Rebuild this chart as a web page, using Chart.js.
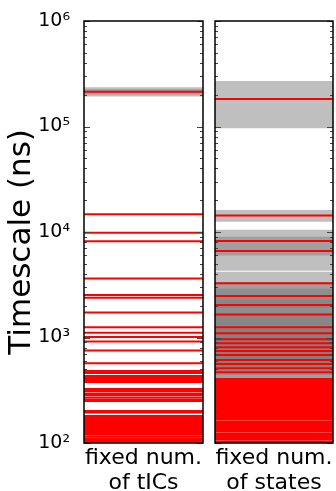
<!DOCTYPE html>
<html>
<head>
<meta charset="utf-8">
<script src="https://cdn.jsdelivr.net/npm/chart.js@4/dist/chart.umd.min.js"></script>
<style>
  body { margin: 0; background: #fff; }
  #wrap { position: relative; width: 336px; height: 491px; overflow: hidden; }
  canvas { position: absolute; top: 0; }
</style>
</head>
<body>
<div id="wrap">
  <canvas id="tics" width="206" height="491" style="left:0"></canvas>
  <canvas id="states" width="130" height="491" style="left:206px"></canvas>
</div>
<script>
// timescales (ns)
const ticTimescales = [214000, 14700, 9860, 8170, 3620, 2530, 2380, 1730, 1250, 1110, 1010, 916, 753, 569,
  481, 461, 432, 413, 395, 378, 325, 311, 294, 285, 270, 258, 250,
  201, 195, 180, 173, 165, 158, 151, 145, 139, 133, 127, 122, 116, 111, 107, 102];
const ticBandLow = [192000, 201000];
const ticBandHigh = [235000, 226000];

const stateTimescales = [182000, 14300, 8220, 6610, 3270, 2470, 2030, 1650, 1250, 1100, 961, 881, 807, 745,
  682, 612, 561, 511, 468, 404, 387, 371, 355, 340, 325, 311, 298, 285, 273, 261, 250, 239, 229, 219,
  210, 201, 192, 184, 176, 169, 161, 155, 148, 142, 136, 130, 124, 119, 114, 109, 104, 100];
const stateBandLow = [96000, 12500, 4300, 6000, 1900, 1500, 1300, 1100, 850, 800, 700, 650, 600, 560,
  520, 480, 440, 410, 380];
const stateBandHigh = [270000, 16200, 10500, 9000, 4200, 3350, 2900, 2300, 1700, 1500, 1300, 1200, 1100, 1000,
  900, 800, 720, 660, 600];

const panelLabels = [["fixed num.", "of tICs"], ["fixed num.", "of states"]];
const yTickValues = [1e2, 1e3, 1e4, 1e5, 1e6];
const yTickLabels = ["10²", "10³", "10⁴", "10⁵", "10⁶"];
const yTitle = "Timescale (ns)  ";

Chart.defaults.font.family = "'DejaVu Sans', sans-serif";
Chart.defaults.color = "#000";

// inner tick marks on both sides + black frame
const frame = {
  id: "frame",
  afterDraw(chart) {
    const { ctx, chartArea: a, scales: { y } } = chart;
    ctx.save();
    ctx.strokeStyle = "#444";
    ctx.lineWidth = 1;
    for (let e = 2; e <= 6; e++) {
      for (let m = 1; m <= 9; m++) {
        const v = m * Math.pow(10, e);
        if (v > 1e6) break;
        const py = Math.round(y.getPixelForValue(v)) + 0.5;
        const len = m === 1 ? 6 : 3;
        ctx.beginPath();
        ctx.moveTo(a.left, py); ctx.lineTo(a.left + len, py);
        ctx.moveTo(a.right, py); ctx.lineTo(a.right - len, py);
        ctx.stroke();
      }
    }
    ctx.strokeStyle = "#000";
    ctx.lineWidth = 1.5;
    ctx.strokeRect(a.left, a.top, a.right - a.left, a.bottom - a.top);
    ctx.restore();
  }
};

function buildDatasets(lines, lows, highs) {
  const sets = [];
  lows.forEach((lo, i) => {
    sets.push({ data: [{ x: 0, y: highs[i] }, { x: 1, y: highs[i] }], borderColor: "transparent",
      pointRadius: 0, fill: false, order: 2 });
    sets.push({ data: [{ x: 0, y: lo }, { x: 1, y: lo }], borderColor: "transparent",
      backgroundColor: "rgba(128,128,128,0.5)", pointRadius: 0, fill: "-1", order: 2 });
  });
  lines.forEach(v => {
    sets.push({ data: [{ x: 0, y: v }, { x: 1, y: v }], borderColor: "#ff0000", borderWidth: 2,
      pointRadius: 0, fill: false, order: 1 });
  });
  return sets;
}

function makeChart(id, lines, lows, highs, label, showY) {
  return new Chart(document.getElementById(id), {
    type: "line",
    data: { datasets: buildDatasets(lines, lows, highs) },
    options: {
      responsive: false,
      animation: false,
      events: [],
      layout: { padding: { top: 21, right: 3, left: showY ? 0 : 9, bottom: 0 } },
      plugins: { legend: { display: false }, tooltip: { enabled: false } },
      scales: {
        x: {
          type: "linear", min: 0, max: 1,
          grid: { display: false }, border: { display: false },
          ticks: { display: false },
          title: { display: true, text: label, font: { size: 22, lineHeight: 1.15 }, padding: { top: 0, bottom: -5 } },
          afterFit: s => { s.height = 48; }
        },
        y: {
          type: "logarithmic", min: 100, max: 1e6,
          display: showY,
          grid: { display: false, drawTicks: false }, border: { display: false },
          afterBuildTicks: s => { s.ticks = yTickValues.map(v => ({ value: v })); },
          ticks: {
            autoSkip: false, padding: 14, font: { size: 19 },
            callback: v => yTickLabels[yTickValues.indexOf(v)]
          },
          title: { display: true, text: yTitle, font: { size: 31 }, padding: { top: 3, bottom: 0 } },
          afterFit: s => {
            if (showY) s.width = 84;
            s.paddingTop = 0;
            s.paddingBottom = 0;
          }
        }
      }
    },
    plugins: [frame]
  });
}

makeChart("tics", ticTimescales, ticBandLow, ticBandHigh, panelLabels[0], true);
makeChart("states", stateTimescales, stateBandLow, stateBandHigh, panelLabels[1], false);
</script>
</body>
</html>
